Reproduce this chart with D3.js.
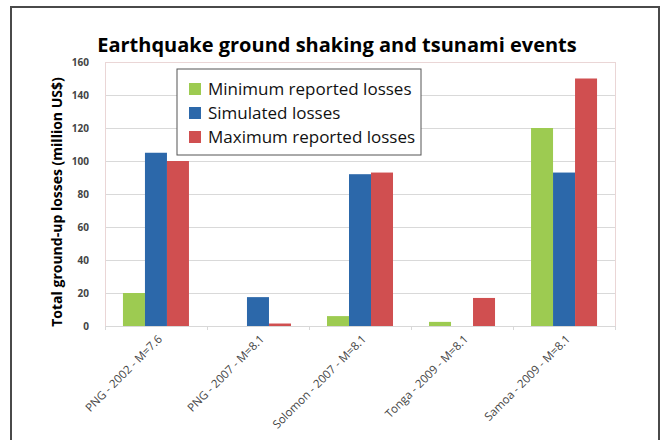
<!DOCTYPE html>
<meta charset="utf-8">
<head>
	<style type="text/css">
		body { margin: 0; background: #fff; }
		.grid line { stroke: #d9d9d9; shape-rendering: crispEdges; }
		.axis path, .axis line { fill: none; stroke: #d8d8d8; shape-rendering: crispEdges; }
	</style>
	<title>Earthquake ground shaking and tsunami events</title>
</head>
<script src="https://cdn.jsdelivr.net/npm/d3@7/dist/d3.min.js"></script>
<svg width="661" height="440" id="svg1"></svg>
<script>
	// data
	const events = ["PNG - 2002 - M=7.6", "PNG - 2007 - M=8.1", "Solomon - 2007 - M=8.1", "Tonga - 2009 - M=8.1", "Samoa - 2009 - M=8.1"];
	const seriesNames = ["Minimum reported losses", "Simulated losses", "Maximum reported losses"];
	const seriesColors = ["#9dcb51", "#2c68aa", "#d04f50"];
	const minLosses = [20, 0, 6, 2.5, 120];
	const simLosses = [105, 17.5, 92, 0, 93];
	const maxLosses = [100, 1.5, 93, 17, 150];
	const yTicks = [0, 20, 40, 60, 80, 100, 120, 140, 160];

	const svg1 = d3.select('#svg1');

	// outer frame (bottom edge runs off the page)
	svg1.append('path')
		.attr('d', 'M11,440 V7 H659 V440')
		.attr('fill', 'none')
		.attr('stroke', '#4a4a4a')
		.attr('stroke-width', 2);

	const margin = { top: 62, left: 105 };
	const innerWidth = 510;
	const innerHeight = 264;

	const g1 = svg1.append('g')
		.attr('transform', `translate(${margin.left},${margin.top})`);

	const x0 = d3.scaleBand()
		.domain(events)
		.range([0, innerWidth])
		.paddingInner(0.353)
		.paddingOuter(0.176);

	const x1 = d3.scaleBand()
		.domain(seriesNames)
		.range([0, x0.bandwidth()]);

	const yScale = d3.scaleLinear()
		.domain([0, 160])
		.range([innerHeight, 0]);

	const rows = events.map((e, i) => ({
		event: e,
		values: [minLosses[i], simLosses[i], maxLosses[i]]
	}));

	// gridlines
	g1.append('g').attr('class', 'grid')
		.selectAll('line')
		.data(yTicks)
		.enter().append('line')
		.attr('x1', 0).attr('x2', innerWidth)
		.attr('y1', d => yScale(d)).attr('y2', d => yScale(d));

	// faint plot border
	g1.append('rect')
		.attr('width', innerWidth).attr('height', innerHeight)
		.attr('fill', 'none')
		.attr('stroke', '#ead6d6')
		.attr('shape-rendering', 'crispEdges');

	// y axis
	const yAxis = d3.axisLeft(yScale)
		.tickValues(yTicks)
		.tickSize(0)
		.tickPadding(16);
	const yAxisG = g1.append('g').attr('class', 'axis').call(yAxis);
	yAxisG.select('.domain').remove();
	yAxisG.selectAll('text')
		.attr('font-family', 'Open Sans, sans-serif')
		.attr('font-weight', 'bold')
		.attr('font-size', '10px')
		.attr('fill', '#444');

	// bars
	const groups = g1.selectAll('.group')
		.data(rows)
		.enter().append('g')
		.attr('class', 'group')
		.attr('transform', d => `translate(${x0(d.event)},0)`);

	groups.selectAll('rect')
		.data(d => d.values.map((v, i) => ({ key: seriesNames[i], value: v, color: seriesColors[i] })))
		.enter().append('rect')
		.attr('x', d => x1(d.key))
		.attr('y', d => yScale(d.value))
		.attr('width', x1.bandwidth())
		.attr('height', d => innerHeight - yScale(d.value))
		.attr('fill', d => d.color);

	// x axis
	const xAxis = d3.axisBottom(x0).tickSize(0).tickPadding(0);
	const xAxisG = g1.append('g').attr('class', 'axis')
		.attr('transform', `translate(0,${innerHeight})`)
		.call(xAxis);
	xAxisG.selectAll('text')
		.attr('x', 0).attr('y', 0)
		.attr('font-family', 'Open Sans, sans-serif')
		.attr('font-size', '11.5px')
		.attr('fill', '#444')
		.attr('text-anchor', 'end')
		.attr('dy', '0.35em')
		.attr('transform', 'translate(4,11) rotate(-45)');
	// small ticks between categories
	xAxisG.selectAll('.sep')
		.data(d3.range(events.length + 1))
		.enter().append('line')
		.attr('class', 'sep')
		.attr('x1', i => i * x0.step()).attr('x2', i => i * x0.step())
		.attr('y1', 0).attr('y2', 4);

	// title
	svg1.append('text')
		.attr('x', 337).attr('y', 52)
		.attr('text-anchor', 'middle')
		.attr('font-family', 'Open Sans, sans-serif')
		.attr('font-weight', 'bold')
		.attr('font-size', '20px')
		.attr('fill', '#000')
		.text('Earthquake ground shaking and tsunami events');

	// y axis label
	svg1.append('text')
		.attr('transform', `translate(62,${margin.top + innerHeight / 2 + 8}) rotate(-90)`)
		.attr('text-anchor', 'middle')
		.attr('font-family', 'Open Sans, sans-serif')
		.attr('font-weight', 'bold')
		.attr('font-size', '14px')
		.attr('fill', '#000')
		.text('Total ground-up losses (million US$)');

	// legend
	const legendG = svg1.append('g').attr('transform', 'translate(177,69)');
	legendG.append('rect')
		.attr('width', 244).attr('height', 86)
		.attr('fill', '#fff')
		.attr('stroke', '#555')
		.attr('stroke-width', 1);
	const legend = legendG.selectAll('.legend')
		.data(seriesNames)
		.enter().append('g')
		.attr('class', 'legend')
		.attr('transform', (d, i) => `translate(12,${20 + i * 24})`);
	legend.append('rect')
		.attr('y', -6)
		.attr('width', 12).attr('height', 12)
		.attr('fill', (d, i) => seriesColors[i]);
	legend.append('text')
		.attr('x', 19)
		.attr('dy', '0.35em')
		.attr('font-family', 'Open Sans, sans-serif')
		.attr('font-size', '17px')
		.attr('fill', '#111')
		.text(d => d);
</script>
